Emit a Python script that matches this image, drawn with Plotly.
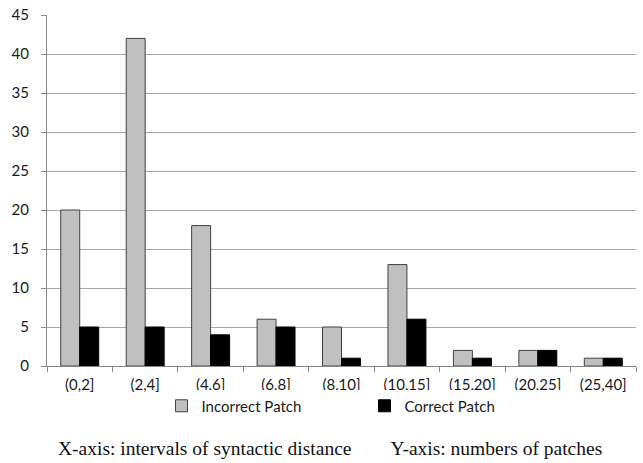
import plotly.graph_objects as go

categories = ["(0,2]", "(2,4]", "(4,6]", "(6,8]", "(8,10]", "(10,15]", "(15,20]", "(20,25]", "(25,40]"]
incorrect = [20, 42, 18, 6, 5, 13, 2, 2, 1]
correct = [5, 5, 4, 5, 1, 6, 1, 2, 1]
y_ticks = [0, 5, 10, 15, 20, 25, 30, 35, 40, 45]

tick_font = dict(family="Lato, Liberation Sans, sans-serif", size=15, color="#1a1a1a")

fig = go.Figure()
fig.add_trace(go.Bar(x=categories, y=incorrect, name="Incorrect Patch",
                     marker=dict(color="#C0C0C0", line=dict(color="#404040", width=1))))
fig.add_trace(go.Bar(x=categories, y=correct, name="Correct Patch",
                     marker=dict(color="#000000", line=dict(color="#000000", width=1))))

fig.update_layout(
    width=643, height=463,
    margin=dict(l=47, r=7, t=15, b=97, autoexpand=False),
    paper_bgcolor="white", plot_bgcolor="white",
    barmode="group", bargap=0.42, bargroupgap=0,
    font=tick_font,
    showlegend=True,
    legend=dict(orientation="h", x=0.539, xanchor="center", y=-0.067, yanchor="top",
                font=dict(family="Lato, Liberation Sans, sans-serif", size=15, color="#1a1a1a"),
                entrywidth=158, traceorder="normal", itemwidth=30),
    xaxis=dict(type="category", showline=True, linecolor="#868686", linewidth=1,
               ticks="outside", tickson="boundaries", ticklen=5, tickcolor="#868686",
               tickfont=tick_font, showgrid=False, ticklabelstandoff=5),
    yaxis=dict(range=[0, 45], tickvals=y_ticks, showgrid=True, gridcolor="#A6A6A6", gridwidth=1,
               showline=True, linecolor="#868686", linewidth=1, ticks="outside", ticklen=5,
               tickcolor="#868686", tickfont=tick_font, zeroline=False, ticklabelstandoff=9,
               ticklabeloverflow="allow"),
)

fig.add_annotation(text="X-axis: intervals of syntactic distance&nbsp;&nbsp;&nbsp;&nbsp;&nbsp;&nbsp;&nbsp;&nbsp;Y-axis: numbers of patches",
                   xref="paper", yref="paper", x=0.481, y=-0.235, xanchor="center", yanchor="middle",
                   showarrow=False,
                   font=dict(family="Liberation Serif, DejaVu Serif, serif", size=19.5, color="#111111"))

fig.write_html("out.html", post_script="document.body.style.margin='0';",
               config={"displayModeBar": False})
